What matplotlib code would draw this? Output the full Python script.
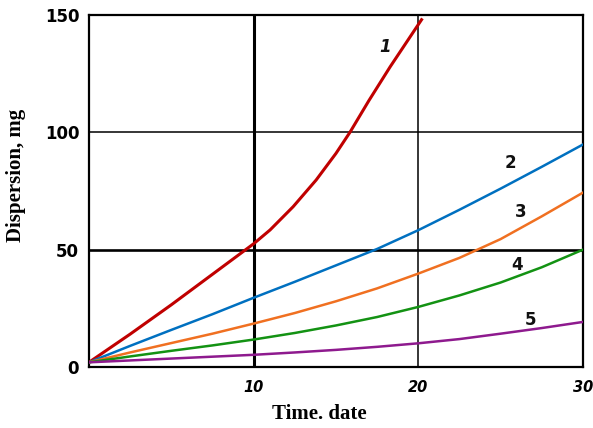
import matplotlib
matplotlib.use('Agg')
import matplotlib.pyplot as plt

# curve values (time in days, dispersion in mg)
x1 = [0, 2.5, 5, 7.5, 10, 11, 12.4, 13.8, 15, 15.85, 17, 18.3, 20.2]
y1 = [2, 14, 26.5, 39.5, 52.5, 58.4, 68.3, 79.7, 91, 100, 113.5, 128, 148]

xs_common = [0, 2.5, 5, 7.5, 10, 12.5, 15, 17.5, 20, 22.5, 25, 27.5, 30]
y2 = [2, 9, 15.8, 22.5, 29.5, 36.3, 43.3, 50.3, 58.3, 67, 76, 85.3, 94.8]
y3 = [2, 6.2, 10.2, 14.2, 18.5, 23, 28, 33.5, 39.8, 46.5, 54.5, 64.2, 74.3]
y4 = [2, 4.5, 6.9, 9.2, 11.7, 14.5, 17.7, 21.3, 25.6, 30.5, 36, 42.5, 50]
y5 = [2, 2.8, 3.6, 4.4, 5.2, 6.2, 7.3, 8.6, 10.1, 11.9, 14.2, 16.6, 19.2]

curve_labels = ['1', '2', '3', '4', '5']
label_x = [18.0, 25.6, 26.2, 26.0, 26.8]
label_y = [136.5, 87, 66, 43.5, 20]

colors = ['#c00000', '#0070c0', '#f07021', '#139213', '#8e1a8e']

fig = plt.figure(figsize=(5.93, 4.28), dpi=100)
ax = fig.add_axes([0.150, 0.1425, 0.833, 0.8225])

# grid lines (the ones at 10 and 50 are drawn heavier in the original)
ax.axvline(10, color='black', lw=2.2, zorder=1)
ax.axvline(20, color='black', lw=1.1, zorder=1)
ax.axhline(50, color='black', lw=1.9, zorder=1)
ax.axhline(100, color='black', lw=1.1, zorder=1)

all_x = [x1, xs_common, xs_common, xs_common, xs_common]
all_y = [y1, y2, y3, y4, y5]
for xs, ys, c, w in zip(all_x, all_y, colors, [2.2, 1.8, 1.8, 1.8, 1.8]):
    ax.plot(xs, ys, color=c, lw=w, zorder=3, solid_joinstyle='round')

for i, t in enumerate(curve_labels):
    style = 'italic' if i == 0 else 'normal'
    ax.text(label_x[i], label_y[i], t, fontsize=12, fontweight='bold',
            fontstyle=style, ha='center', va='center', color='#111111')

ax.set_xlim(0, 30)
ax.set_ylim(0, 150)
ax.set_xticks([10, 20, 30])
ax.set_yticks([0, 50, 100, 150])
ax.tick_params(length=0)
ax.tick_params(axis='x', pad=9)
ax.tick_params(axis='y', pad=7)
for lab in ax.get_xticklabels():
    lab.set_fontweight('bold')
    lab.set_fontstyle('italic')
    lab.set_fontsize(10.5)
for lab in ax.get_yticklabels():
    lab.set_fontweight('bold')
    lab.set_fontsize(12)

for s in ax.spines.values():
    s.set_linewidth(1.6)

ax.set_xlabel('Time. date', family='Liberation Serif', fontweight='bold',
              fontsize=15)
ax.set_ylabel('Dispersion, mg', family='Liberation Serif', fontweight='bold',
              fontsize=15)
ax.xaxis.set_label_coords(0.466, -0.105)
ax.yaxis.set_label_coords(-0.127, 0.543)

fig.savefig('out.png', dpi=100)
